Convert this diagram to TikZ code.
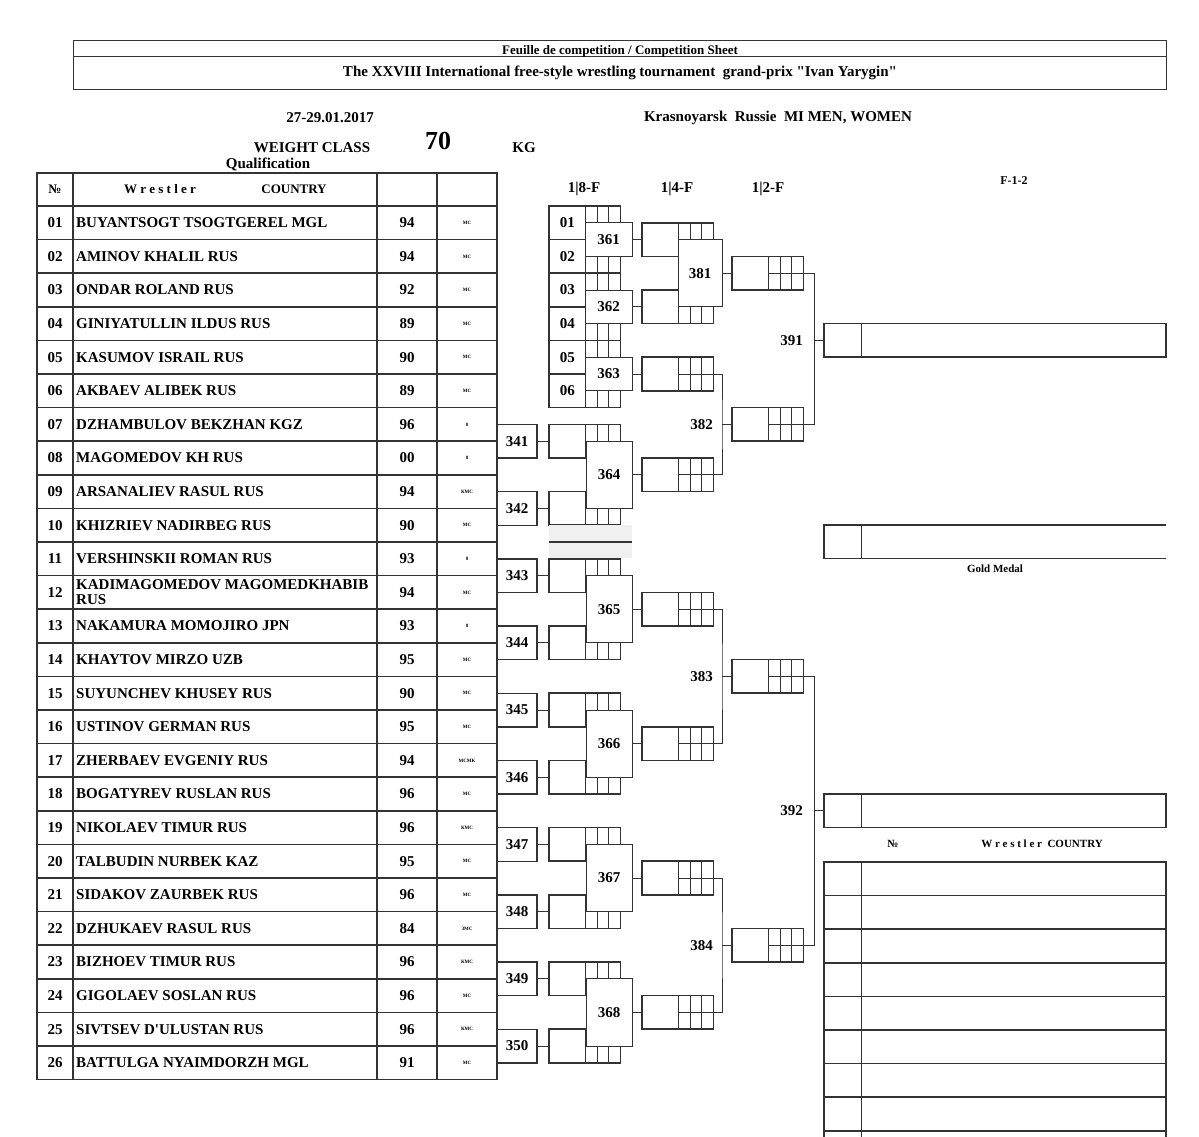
\documentclass[tikz,border=0pt]{standalone}
\usepackage{fontspec}
\setmainfont{Liberation Serif}[Ligatures=TeXOff]
\usetikzlibrary{positioning, calc}
\newcommand{\sheetfont}[1]{\fontsize{#1}{#1}\selectfont\bfseries}

% one slot: name, left x, centre y, number
\newcommand{\slotbox}[4]{%
  \node[slot] (#1) at (#2+35.75,#3) {};
  \node[slotno] (#1t) at (#2+18.25,#3) {#4};
  \draw[cell] (#2+36.5,#3-16.8) -- (#2+36.5,#3+16.8)
              (#2+48.2,#3-16.8) -- (#2+48.2,#3+16.8)
              (#2+59.8,#3-16.8) -- (#2+59.8,#3+16.8)
              (#2+36.5,#3) -- (#2+71.5,#3);
}

\begin{document}
\begin{tikzpicture}[
    x=1pt, y=-1pt,
    frame/.style={draw=black!80, line width=1.6pt},
    thinframe/.style={draw=black!80, line width=0.9pt},
    cell/.style={draw=black!80, line width=0.9pt},
    link/.style={draw=black!80, line width=1pt},
    slot/.style={draw=black!80, line width=1.6pt, fill=white, inner sep=0pt,
                 minimum width=71.5pt, minimum height=33.6pt},
    slotno/.style={inner sep=0pt, font=\sheetfont{15}},
    bout/.style={draw=black!80, line width=1pt, fill=white, inner sep=0pt,
                 font=\sheetfont{15}},
    lbl/.style={inner sep=0pt, font=\sheetfont{15}},
    rank/.style={inner sep=0pt, font=\sheetfont{5}}
]
\useasboundingbox (0,0) rectangle (1199,1137);

% heading
\draw[thinframe] (73,40) rectangle (1166,89);
\draw[thinframe] (73,56) -- (1166,56);
\node[lbl, anchor=base, font=\sheetfont{13}] (sheet) at (620,55) {Feuille de competition / Competition Sheet};
\node[lbl] (event) at (620,73) {The XXVIII International free-style wrestling tournament \ grand-prix "Ivan Yarygin"};
\node[lbl] (dates) at (330,118) {27-29.01.2017};
\node[lbl] (place) at (778,118) {Krasnoyarsk \ Russie \ MI MEN, WOMEN};
\node[lbl] (wclass) at (312,148) {WEIGHT CLASS};
\node[lbl, font=\sheetfont{26}] (weight) at (438,141) {70};
\node[lbl] (kg) at (524,148) {KG};
\node[lbl] (qualif) at (268,164) {Qualification};

% wrestler table
\draw[frame] (37,173) rectangle (497,1079.6);
\foreach \cx in {73,377,437} \draw[frame] (\cx,173) -- (\cx,1079.6);
\foreach \i in {0,...,25} \draw[frame] (37,{206+33.6*\i}) -- (497,{206+33.6*\i});
\node[lbl, font=\sheetfont{13}] (hno) at (55,189) {№};
\node[lbl, font=\sheetfont{13}] (hname) at (160,189) {W r e s t l e r};
\node[lbl, font=\sheetfont{13}] (hcountry) at (294,189) {COUNTRY};
\foreach \no/\name/\yr/\rk [count=\i] in {
  01/BUYANTSOGT TSOGTGEREL MGL/94/МС, 02/AMINOV KHALIL RUS/94/МС,
  03/ONDAR ROLAND RUS/92/МС, 04/GINIYATULLIN ILDUS RUS/89/МС,
  05/KASUMOV ISRAIL RUS/90/МС, 06/AKBAEV ALIBEK RUS/89/МС,
  07/DZHAMBULOV BEKZHAN KGZ/96/0, 08/MAGOMEDOV KH RUS/00/0,
  09/ARSANALIEV RASUL RUS/94/КМС, 10/KHIZRIEV NADIRBEG RUS/90/МС,
  11/VERSHINSKII ROMAN RUS/93/0, 12/{KADIMAGOMEDOV MAGOMEDKHABIB\\RUS}/94/МС,
  13/NAKAMURA MOMOJIRO JPN/93/0, 14/KHAYTOV MIRZO UZB/95/МС,
  15/SUYUNCHEV KHUSEY RUS/90/МС, 16/USTINOV GERMAN RUS/95/МС,
  17/ZHERBAEV EVGENIY RUS/94/МСМК, 18/BOGATYREV RUSLAN RUS/96/МС,
  19/NIKOLAEV TIMUR RUS/96/КМС, 20/TALBUDIN NURBEK KAZ/95/МС,
  21/SIDAKOV ZAURBEK RUS/96/МС, 22/DZHUKAEV RASUL RUS/84/ЗМС,
  23/BIZHOEV TIMUR RUS/96/КМС, 24/GIGOLAEV SOSLAN RUS/96/МС,
  25/SIVTSEV D'ULUSTAN RUS/96/КМС, 26/BATTULGA NYAIMDORZH MGL/91/МС} {
  \pgfmathsetmacro\ry{206+33.6*(\i-0.5)}
  \node[lbl] (no\i) at (55,\ry) {\no};
  \node[lbl, anchor=west, align=left] (name\i) at (76,\ry) {\name};
  \node[lbl] (yr\i) at (407,\ry) {\yr};
  \node[rank] (rk\i) at (467,\ry) {\rk};
}

% round titles
\node[lbl] (r8) at (584,189) {1|8-F};
\node[lbl] (r4) at (677,189) {1|4-F};
\node[lbl] (r2) at (768,189) {1|2-F};
\node[lbl, font=\sheetfont{12}] (fin) at (1014,181) {F-1-2};

% 1/8 slots, seeded
\foreach \nm/\y in {01/222.8, 02/256.4, 03/290, 04/323.6, 05/357.2, 06/390.8}
  {\slotbox{s\nm}{549}{\y}{\nm}}

% qualification bouts and their 1/8 slots
\foreach \k/\y in {341/441.2, 342/508.4, 343/575.6, 344/642.8, 345/710,
                   346/777.2, 347/844.4, 348/911.6, 349/978.8, 350/1046} {
  \slotbox{s\k}{549}{\y}{}
  \node[bout, line width=1.4pt, minimum width=40pt, minimum height=33.6pt] (k\k) at (517,\y) {\k};
  \draw[link] (k\k) -- (s\k);
}
\fill[black!6] (549,525) rectangle (632,558.4);
\draw[frame] (549,541.8) -- (632,541.8);

% 1/8 bouts
\node[bout, minimum width=47pt, minimum height=33.6pt] (m361) at (608.5,239.6) {361};
\node[bout, minimum width=47pt, minimum height=33.6pt] (m362) at (608.5,306.8) {362};
\node[bout, minimum width=47pt, minimum height=33.6pt] (m363) at (608.5,374) {363};
\foreach \m/\y in {364/474.8, 365/609.2, 366/743.6, 367/878, 368/1012.4}
  {\node[bout, minimum width=46pt, minimum height=67.2pt] (m\m) at (609,\y) {\m};}

% 1/4 slots
\foreach \m/\y in {361/239.6, 362/306.8, 363/374, 364/474.8, 365/609.2,
                   366/743.6, 367/878, 368/1012.4} {
  \slotbox{q\m}{642}{\y}{}
  \draw[link] (m\m) -- (q\m);
}
\node[bout, minimum width=44pt, minimum height=67.2pt] (m381) at (700,273.2) {381};

% 1/2 slots
\foreach \m/\y in {381/273.2, 382/424.4, 383/676.4, 384/945.2}
  {\slotbox{h\m}{732}{\y}{}}
\draw[link] (m381) -- (h381);
\foreach \m/\a/\b/\y in {382/363/364/424.4, 383/365/366/676.4, 384/367/368/945.2} {
  \coordinate (b\m) at (722,\y);
  \draw[link] (q\a.east) -| (b\m) |- (q\b.east);
  \draw[link] (b\m) -- (h\m);
  \node[lbl, left=9pt of b\m] (l\m) {\m};
}

% final slots
\node[slot, minimum width=342.5pt] (f391) at (995,340.4) {};
\node[slot, minimum width=342.5pt] (f392) at (995,810.8) {};
\draw[cell] (861,323.6) -- (861,357.2) (861,794) -- (861,827.6);
\coordinate (b391) at (814,340.4);
\coordinate (b392) at (814,810.8);
\draw[link] (h381.east) -| (b391) |- (h382.east);
\draw[link] (h383.east) -| (b392) |- (h384.east);
\draw[link] (b391) -- (f391);
\draw[link] (b392) -- (f392);
\node[lbl, left=11pt of b391] (l391) {391};
\node[lbl, left=11pt of b392] (l392) {392};

% gold medal
\draw[frame] (1166,525) -- (824,525) -- (824,558.4) -- (1166,558.4);
\draw[cell] (861,525) -- (861,558.4);
\node[lbl, font=\sheetfont{11}] (gold) at (995,569) {Gold Medal};

% placings
\node[lbl, font=\sheetfont{11}] (pno) at (893,844) {№};
\node[lbl, font=\sheetfont{11}] (pname) at (1042,844) {W r e s t l e r \ COUNTRY};
\draw[frame] (824,1137) -- (824,862) -- (1166,862) -- (1166,1137);
\foreach \i in {1,...,8} \draw[frame] (824,{862+33.6*\i}) -- (1166,{862+33.6*\i});
\draw[cell] (861,862) -- (861,1137);
\end{tikzpicture}
\end{document}
